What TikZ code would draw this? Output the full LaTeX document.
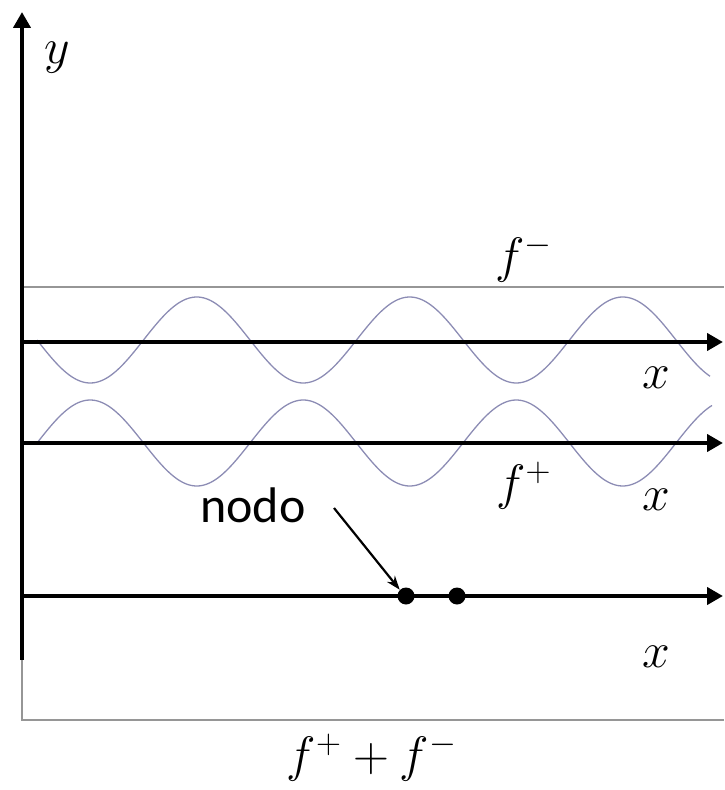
\documentclass[tikz,border=0pt]{standalone}
\usepackage{fontspec}
\setmainfont{Carlito}
\usetikzlibrary{arrows.meta}
\definecolor{wave}{RGB}{140,140,180}
\definecolor{boxgray}{RGB}{150,150,150}
\tikzset{
  axis/.style={line width=2.2pt,-{Triangle[length=8pt,width=8.5pt]}},
  boxline/.style={boxgray,line width=0.7pt},
  waveline/.style={wave,line width=0.65pt},
  lbl/.style={font=\fontsize{25}{29}\selectfont,inner sep=0pt},
  dotnode/.style={circle,fill=black,inner sep=0pt,minimum size=8.5pt},
  ptr/.style={line width=1.1pt,-{Stealth[length=7pt,width=5pt]}}
}
\begin{document}
\begin{tikzpicture}[x=0.5pt,y=-0.5pt]
\useasboundingbox (0,0) rectangle (724,790);
% coordinates
\coordinate (ybot) at (22,660);
\coordinate (ytop) at (22,12);
\coordinate (boxtl) at (22,287);
\coordinate (boxtr) at (724,287);
\coordinate (boxbl) at (22,720);
\coordinate (boxbr) at (724,720);
\coordinate (a1s) at (22,342);
\coordinate (a1e) at (723,342);
\coordinate (a2s) at (22,443);
\coordinate (a2e) at (723,443);
\coordinate (a3s) at (22,596);
\coordinate (a3e) at (723,596);
% gray frame
\draw[boxline] (boxtl) -- (boxtr);
\draw[boxline] (ybot) -- (boxbl) -- (boxbr);
% waves
\draw[waveline] plot[domain=37:710,samples=300] (\x,{340+43*sin(1.69014*(\x-37))});
\draw[waveline] plot[domain=37:712,samples=300] (\x,{443-43*sin(1.69014*(\x-37))});
% axes
\draw[axis] (ybot) -- (ytop);
\draw[axis] (a1s) -- (a1e);
\draw[axis] (a2s) -- (a2e);
\draw[axis] (a3s) -- (a3e);
% labels
\node[lbl] (ylab) at (57,58) {$y$};
\node[lbl] (fminus) at (524,258) {$f^{-}$};
\node[lbl] (x1) at (656,378) {$x$};
\node[lbl] (fplus) at (524,486) {$f^{+}$};
\node[lbl] (x2) at (656,500) {$x$};
\node[lbl] (x3) at (656,657) {$x$};
\node[lbl] (sum) at (372,757) {$f^{+}+f^{-}$};
\node[lbl,anchor=base] (nodo) at (253,522) {nodo};
% nodes on axis
\node[dotnode] (n1) at (406,596) {};
\node[dotnode] (n2) at (457,596) {};
\coordinate (pstart) at (334,508);
\draw[ptr] (pstart) -- (n1.north west);
\end{tikzpicture}
\end{document}
